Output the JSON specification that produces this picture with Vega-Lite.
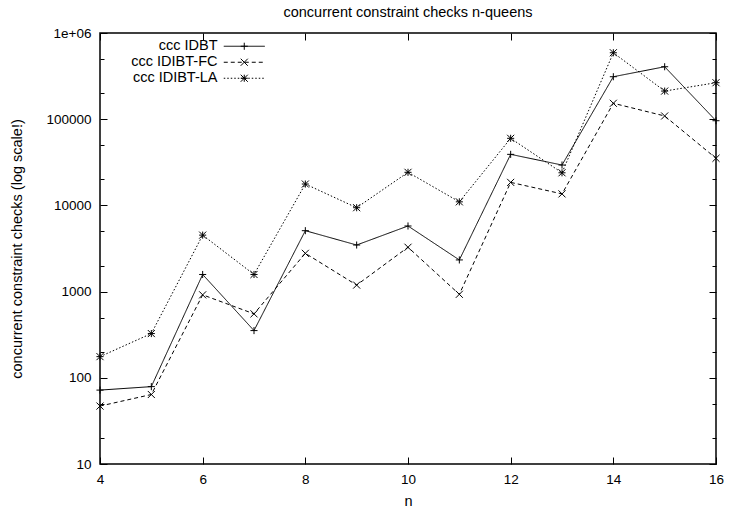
{
  "$schema": "https://vega.github.io/schema/vega-lite/v6.json",
  "width": 616,
  "height": 431,
  "autosize": {"type": "none"},
  "padding": {"left": 100, "top": 33, "right": 15, "bottom": 48},
  "background": "white",
  "title": {"text": "concurrent constraint checks n-queens", "fontSize": 14.5, "font": "Liberation Sans", "fontWeight": "normal", "color": "black", "offset": 6, "anchor": "middle", "frame": "group"},
  "config": {
    "font": "Liberation Sans",
    "view": {"stroke": "black", "strokeWidth": 1.5},
    "legend": {"padding": 0},
    "axis": {"labelColor": "black", "tickColor": "black", "titleColor": "black", "labelFont": "Liberation Sans", "titleFont": "Liberation Sans", "labelFontSize": 13.5, "titleFontSize": 14.5, "titleFontWeight": "normal", "domain": false, "grid": false, "tickWidth": 1, "labelOverlap": false, "labelFlush": false}
  },
  "data": {"values": [
    {"n": 4, "series": "ccc IDBT", "checks": 72},
    {"n": 5, "series": "ccc IDBT", "checks": 79},
    {"n": 6, "series": "ccc IDBT", "checks": 1580},
    {"n": 7, "series": "ccc IDBT", "checks": 353},
    {"n": 8, "series": "ccc IDBT", "checks": 5090},
    {"n": 9, "series": "ccc IDBT", "checks": 3470},
    {"n": 10, "series": "ccc IDBT", "checks": 5770},
    {"n": 11, "series": "ccc IDBT", "checks": 2330},
    {"n": 12, "series": "ccc IDBT", "checks": 39100},
    {"n": 13, "series": "ccc IDBT", "checks": 29400},
    {"n": 14, "series": "ccc IDBT", "checks": 311000},
    {"n": 15, "series": "ccc IDBT", "checks": 406000},
    {"n": 16, "series": "ccc IDBT", "checks": 96000},
    {"n": 4, "series": "ccc IDIBT-FC", "checks": 47},
    {"n": 5, "series": "ccc IDIBT-FC", "checks": 64},
    {"n": 6, "series": "ccc IDIBT-FC", "checks": 917},
    {"n": 7, "series": "ccc IDIBT-FC", "checks": 552},
    {"n": 8, "series": "ccc IDIBT-FC", "checks": 2780},
    {"n": 9, "series": "ccc IDIBT-FC", "checks": 1190},
    {"n": 10, "series": "ccc IDIBT-FC", "checks": 3270},
    {"n": 11, "series": "ccc IDIBT-FC", "checks": 930},
    {"n": 12, "series": "ccc IDIBT-FC", "checks": 18500},
    {"n": 13, "series": "ccc IDIBT-FC", "checks": 13600},
    {"n": 14, "series": "ccc IDIBT-FC", "checks": 153000},
    {"n": 15, "series": "ccc IDIBT-FC", "checks": 109000},
    {"n": 16, "series": "ccc IDIBT-FC", "checks": 35200},
    {"n": 4, "series": "ccc IDIBT-LA", "checks": 176},
    {"n": 5, "series": "ccc IDIBT-LA", "checks": 326},
    {"n": 6, "series": "ccc IDIBT-LA", "checks": 4520},
    {"n": 7, "series": "ccc IDIBT-LA", "checks": 1580},
    {"n": 8, "series": "ccc IDIBT-LA", "checks": 17700},
    {"n": 9, "series": "ccc IDIBT-LA", "checks": 9400},
    {"n": 10, "series": "ccc IDIBT-LA", "checks": 24200},
    {"n": 11, "series": "ccc IDIBT-LA", "checks": 11000},
    {"n": 12, "series": "ccc IDIBT-LA", "checks": 60000},
    {"n": 13, "series": "ccc IDIBT-LA", "checks": 23900},
    {"n": 14, "series": "ccc IDIBT-LA", "checks": 590000},
    {"n": 15, "series": "ccc IDIBT-LA", "checks": 212000},
    {"n": 16, "series": "ccc IDIBT-LA", "checks": 265000}
  ]},
  "layer": [
    {
      "mark": {"type": "line", "color": "black", "strokeWidth": 1},
      "encoding": {
        "x": {"field": "n", "type": "quantitative", "scale": {"domain": [4, 16], "nice": false},
          "axis": {"orient": "bottom", "values": [4, 6, 8, 10, 12, 14, 16], "ticks": false, "tickSize": 0, "labelPadding": 8, "title": "n", "titlePadding": 9}},
        "y": {"field": "checks", "type": "quantitative", "scale": {"type": "log", "domain": [10, 1000000], "nice": false},
          "axis": {"orient": "left", "values": [10, 100, 1000, 10000, 100000, 1000000],
            "labelExpr": "datum.value == 1000000 ? '1e+06' : format(datum.value, 'd')",
            "ticks": false, "tickSize": 0, "labelPadding": 9, "title": "concurrent constraint checks (log scale!)", "titlePadding": 21}},
        "strokeDash": {"field": "series", "type": "nominal",
          "scale": {"domain": ["ccc IDBT", "ccc IDIBT-FC", "ccc IDIBT-LA"], "range": [[1, 0], [4, 3], [1.5, 2]]},
          "legend": {"orient": "none", "legendX": 137, "legendY": 6, "title": null, "labelAlign": "right", "labelOffset": -34, "labelFontSize": 14.5, "labelColor": "black", "labelFont": "Liberation Sans", "labelLimit": 0, "symbolType": "M-5.125,0L5.125,0", "symbolSize": 64, "symbolStrokeWidth": 1, "symbolStrokeColor": "black", "symbolFillColor": "transparent", "rowPadding": 1}}
      }
    },
    {
      "mark": {"type": "point", "filled": false, "color": "black", "strokeWidth": 1, "opacity": 1, "size": 50},
      "encoding": {
        "x": {"field": "n", "type": "quantitative", "scale": {"domain": [4, 16], "nice": false},
          "axis": {"orient": "bottom", "values": [4, 6, 8, 10, 12, 14, 16], "offset": -7, "tickSize": 7, "labels": false, "title": null}},
        "y": {"field": "checks", "type": "quantitative", "scale": {"type": "log", "domain": [10, 1000000], "nice": false},
          "axis": {"orient": "left", "values": [10, 100, 1000, 10000, 100000, 1000000], "offset": -7, "tickSize": 7, "labels": false, "title": null}},
        "shape": {"field": "series", "type": "nominal",
          "scale": {"domain": ["ccc IDBT", "ccc IDIBT-FC", "ccc IDIBT-LA", "zz"], "range": ["M-1,0L1,0M0,-1L0,1", "M-1,-1L1,1M-1,1L1,-1", "M-1,0L1,0M0,-1L0,1M-1,-1L1,1M-1,1L1,-1", "M0,0"]},
          "legend": {"orient": "none", "legendX": 137, "legendY": 6, "title": null, "values": ["ccc IDBT", "ccc IDIBT-FC", "ccc IDIBT-LA"], "labelOpacity": 0, "labelFontSize": 14.5, "symbolSize": 50, "symbolStrokeWidth": 1, "symbolStrokeColor": "black", "symbolFillColor": "transparent", "rowPadding": 1}}
      }
    },
    {
      "mark": {"type": "point", "opacity": 0},
      "encoding": {
        "x": {"field": "n", "type": "quantitative", "scale": {"domain": [4, 16], "nice": false},
          "axis": {"orient": "top", "values": [4, 6, 8, 10, 12, 14, 16], "offset": -7, "tickSize": 7, "labels": false, "title": null}},
        "y": {"field": "checks", "type": "quantitative", "scale": {"type": "log", "domain": [10, 1000000], "nice": false},
          "axis": {"orient": "right", "values": [10, 100, 1000, 10000, 100000, 1000000], "offset": -7, "tickSize": 7, "labels": false, "title": null}}
      }
    },
    {
      "mark": {"type": "point", "opacity": 0},
      "encoding": {
        "x": {"field": "n", "type": "quantitative", "scale": {"domain": [4, 16], "nice": false}, "axis": null},
        "y": {"field": "checks", "type": "quantitative", "scale": {"type": "log", "domain": [10, 1000000], "nice": false},
          "axis": {"orient": "left", "values": [20, 50, 200, 500, 2000, 5000, 20000, 50000, 200000, 500000], "offset": -4, "tickSize": 4, "labels": false, "title": null}}
      }
    },
    {
      "mark": {"type": "point", "opacity": 0},
      "encoding": {
        "x": {"field": "n", "type": "quantitative", "scale": {"domain": [4, 16], "nice": false}, "axis": null},
        "y": {"field": "checks", "type": "quantitative", "scale": {"type": "log", "domain": [10, 1000000], "nice": false},
          "axis": {"orient": "right", "values": [20, 50, 200, 500, 2000, 5000, 20000, 50000, 200000, 500000], "offset": -4, "tickSize": 4, "labels": false, "title": null}}
      }
    }
  ],
  "resolve": {"axis": {"x": "independent", "y": "independent"}}
}
